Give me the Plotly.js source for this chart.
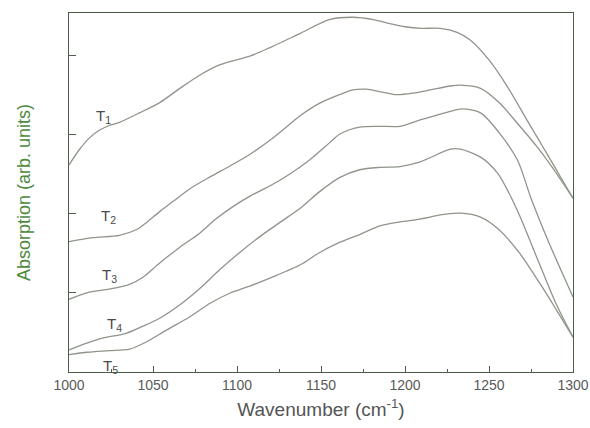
<!DOCTYPE html>
<html>
<head>
<meta charset="utf-8">
<script src="https://cdn.plot.ly/plotly-3.0.1.min.js"></script>
<style>html,body{margin:0;padding:0;background:#fff;}#chart{width:590px;height:428px;}</style>
</head>
<body>
<div id="chart"></div>
<script>
// Wavenumber (cm-1) and absorption (arb. units)
const wnT1 = [1000,1006,1012,1018,1024,1030,1042,1054,1066,1078,1090,1108,1120,1138,1155,1169,1181,1191,1200,1210,1221,1231,1239,1250,1261,1272,1279,1284,1292,1300];
const absT1 = [2.62,2.81,2.96,3.06,3.12,3.16,3.28,3.41,3.59,3.76,3.89,4.00,4.11,4.29,4.46,4.49,4.46,4.41,4.37,4.35,4.35,4.30,4.20,3.95,3.61,3.21,2.96,2.78,2.49,2.20];

const wnT2 = [1000,1014,1030,1040,1046,1054,1062,1072,1084,1096,1108,1120,1131,1138,1149,1161,1169,1177,1185,1195,1205,1215,1227,1233,1245,1256,1268,1279,1288,1300];
const absT2 = [1.65,1.70,1.73,1.80,1.89,2.03,2.16,2.32,2.47,2.61,2.76,2.94,3.13,3.25,3.40,3.51,3.57,3.58,3.55,3.51,3.53,3.57,3.62,3.63,3.59,3.41,3.12,2.84,2.58,2.20];

const wnT3 = [1000,1012,1024,1036,1044,1054,1066,1078,1087,1098,1108,1120,1131,1143,1155,1161,1173,1185,1197,1209,1227,1234,1245,1256,1267,1275,1286,1300];
const absT3 = [0.92,1.01,1.05,1.11,1.20,1.38,1.58,1.76,1.93,2.10,2.23,2.36,2.50,2.68,2.90,3.01,3.10,3.11,3.11,3.19,3.30,3.33,3.28,3.03,2.68,2.20,1.62,0.95];

const wnT4 = [1000,1011,1020,1034,1044,1054,1066,1078,1090,1102,1114,1126,1138,1149,1161,1173,1185,1197,1209,1227,1233,1245,1255,1262,1268,1280,1290,1300];
const absT4 = [0.28,0.37,0.43,0.49,0.58,0.68,0.85,1.06,1.30,1.52,1.72,1.90,2.08,2.28,2.46,2.56,2.59,2.60,2.66,2.82,2.82,2.72,2.52,2.26,1.99,1.37,0.86,0.44];

const wnT5 = [1000,1011,1024,1036,1046,1058,1072,1084,1096,1108,1121,1138,1149,1161,1173,1185,1197,1207,1215,1221,1233,1245,1256,1268,1280,1290,1300];
const absT5 = [0.22,0.25,0.27,0.29,0.38,0.53,0.70,0.87,1.00,1.09,1.20,1.36,1.51,1.64,1.74,1.85,1.90,1.93,1.96,1.99,2.01,1.96,1.80,1.51,1.13,0.79,0.44];

const seriesNames = ["T1","T2","T3","T4","T5"];
const labelTexts = ["T<sub>1</sub>","T<sub>2</sub>","T<sub>3</sub>","T<sub>4</sub>","T<sub>5</sub>"];
const xTickVals = [1000,1050,1100,1150,1200,1250,1300];
const xTickText = ["1000","1050","1100","1150","1200","1250","1300"];
const yTickVals = [1,2,3,4];

const xs = [wnT1,wnT2,wnT3,wnT4,wnT5];
const ys = [absT1,absT2,absT3,absT4,absT5];

const curveColor = "#8e958a";
const traces = xs.map((x,i)=>({
  x: x, y: ys[i], name: seriesNames[i], type: "scatter", mode: "lines",
  line: {color: curveColor, width: 1.3, shape: "spline", smoothing: 0.8},
  hoverinfo: "skip"
}));

// label anchor positions in pixel terms
const labelPos = [[94,116],[99,216],[100,275],[105,324],[101,366]];
const W = 590, H = 428, ml = 69, mr = 17, mt = 13, mb = 56;
const annotations = labelTexts.map((t,i)=>({
  text: t, xref: "paper", yref: "paper",
  x: (labelPos[i][0]-ml)/(W-ml-mr), y: 1-(labelPos[i][1]-mt)/(H-mt-mb),
  xanchor: "left", yanchor: "middle", showarrow: false,
  font: {family: "Arial, Liberation Sans, sans-serif", size: 15, color: "#4a4a4a"}
}));

const axisColor = "#4f5c49";
const layout = {
  width: W, height: H,
  margin: {l: ml, r: mr, t: mt, b: mb},
  paper_bgcolor: "#fff", plot_bgcolor: "#fff",
  showlegend: false,
  font: {family: "Arial, Liberation Sans, sans-serif"},
  xaxis: {
    range: [1000,1300], tickvals: xTickVals, ticktext: xTickText,
    ticks: "inside", ticklen: 6, tickwidth: 1, tickcolor: axisColor,
    minor: {tickvals: [1025,1075,1125,1175,1225,1275], ticks: "inside", ticklen: 3, tickcolor: axisColor, showgrid: false},
    showline: true, linecolor: axisColor, linewidth: 1.3, mirror: true,
    showgrid: false, zeroline: false,
    tickfont: {size: 14, color: "#5a5a5a"},
    title: {text: "Wavenumber (cm<sup>-1</sup>)", font: {size: 19, color: "#555555"}, standoff: 10}
  },
  yaxis: {
    range: [0, 4.544], tickvals: yTickVals, showticklabels: false,
    ticks: "inside", ticklen: 7, tickwidth: 1, tickcolor: axisColor,
    showline: true, linecolor: axisColor, linewidth: 1.3, mirror: true,
    showgrid: false, zeroline: false,
    title: {text: "Absorption (arb. units)", font: {size: 18, color: "#4e8a3e"}, standoff: 32}
  },
  annotations: annotations
};

Plotly.newPlot("chart", traces, layout, {staticPlot: true, displayModeBar: false});
</script>
</body>
</html>
